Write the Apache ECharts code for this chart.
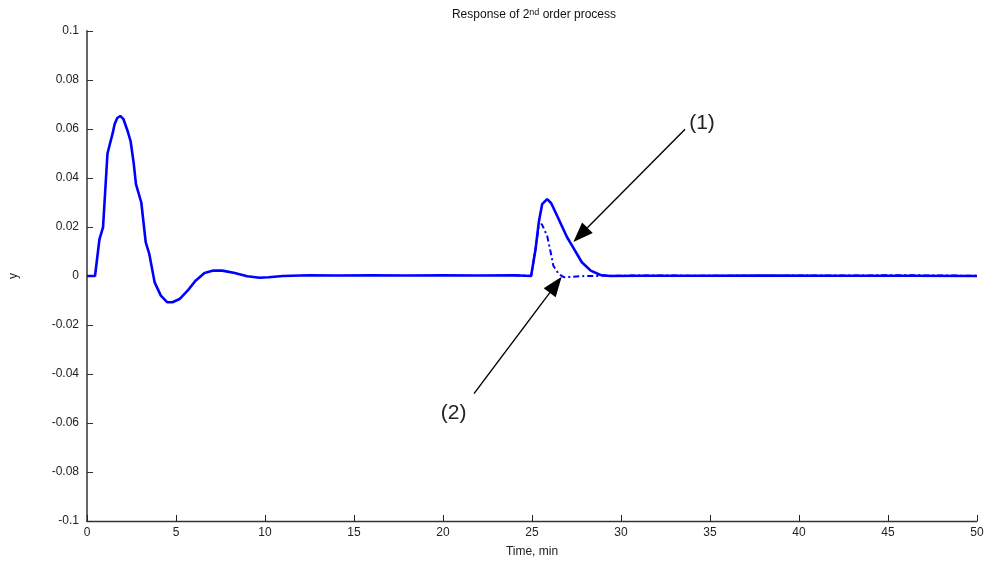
<!DOCTYPE html>
<html>
<head>
<meta charset="utf-8">
<title>Response of 2nd order process</title>
<script src="https://cdn.jsdelivr.net/npm/echarts@6.0.0/dist/echarts.min.js"></script>
<style>
  html, body { margin: 0; padding: 0; background: #fff; }
  #chart { width: 989px; height: 563px; }
</style>
</head>
<body>
<div id="chart"></div>
<script>
// response (1): full curve
const timeSolid = [0, 0.45, 0.7, 0.9, 1.15, 1.45, 1.55, 1.7, 1.87, 2.05, 2.28, 2.45, 2.62, 2.75, 3.05, 3.3, 3.5, 3.8, 4.15, 4.5, 4.8, 5.2, 5.65, 6.1, 6.6, 7.1, 7.6, 8.3, 9.0, 9.7, 10.2, 11, 12.5, 14, 16, 18, 20, 22, 24, 24.95, 25.2, 25.38, 25.57, 25.85, 26.08, 26.41, 26.97, 27.25, 27.8, 28.3, 28.85, 29.4, 31, 34, 38, 42, 46, 50];
const ySolid = [0, 0, 0.015, 0.0198, 0.05, 0.0585, 0.0619, 0.0645, 0.0653, 0.064, 0.0592, 0.055, 0.0463, 0.0375, 0.03, 0.0137, 0.009, -0.0026, -0.008, -0.0107, -0.0107, -0.0094, -0.006, -0.0019, 0.0012, 0.0022, 0.0022, 0.0012, -0.0001, -0.0007, -0.0005, 0, 0.0003, 0.0002, 0.0003, 0.0002, 0.0003, 0.0002, 0.0003, 0, 0.011, 0.0219, 0.0293, 0.0314, 0.0297, 0.0246, 0.0158, 0.0124, 0.0056, 0.0022, 0.0004, 0, 0.0001, 0.0001, 0.0002, 0.0001, 0.0001, 0];

// response (2): dash-dot curve
const timeDash = [24, 24.95, 25.2, 25.38, 25.55, 25.85, 26.05, 26.2, 26.5, 26.8, 27.3, 28, 31, 36, 42, 46, 50];
const yDash = [0.0003, 0, 0.011, 0.0205, 0.0212, 0.0164, 0.0097, 0.0042, 0.0008, -0.0005, -0.0003, 0, 0.0002, 0.0001, 0.0002, 0.0003, 0.0001];

// annotations: [label, text position, arrow start, arrow tip]
const notes = [
  ['(1)', [34.55, 0.0622], [33.6, 0.0599], [27.72, 0.0168]],
  ['(2)', [20.6, -0.0562], [21.74, -0.048], [26.33, -0.0036]]
];

const chart = echarts.init(document.getElementById('chart'));
const font = 'Liberation Sans, Arial, sans-serif';

chart.setOption({
  animation: false,
  textStyle: { fontFamily: font },
  title: {
    text: 'Response of 2{sup|nd} order process',
    left: 529,
    textAlign: 'center',
    top: 3,
    textStyle: {
      fontSize: 12,
      fontWeight: 'normal',
      color: '#111',
      fontFamily: font,
      rich: {
        sup: { fontSize: 9, verticalAlign: 'top', lineHeight: 14, color: '#111' }
      }
    }
  },
  grid: { left: 86, right: 12, top: 31, bottom: 41 },
  xAxis: {
    type: 'value',
    min: 0,
    max: 50,
    interval: 5,
    name: 'Time, min',
    nameLocation: 'middle',
    nameGap: 25,
    nameTextStyle: { fontSize: 12, color: '#222' },
    axisLine: { onZero: false, lineStyle: { color: '#333', width: 1.3 } },
    axisTick: { inside: true, length: 6, lineStyle: { color: '#222' } },
    axisLabel: { fontSize: 12, color: '#222', margin: 6 },
    splitLine: { show: false }
  },
  yAxis: {
    type: 'value',
    min: -0.1,
    max: 0.1,
    interval: 0.02,
    name: 'y',
    nameLocation: 'middle',
    nameGap: 67,
    nameTextStyle: { fontSize: 12, color: '#222' },
    axisLine: { show: true, onZero: false, lineStyle: { color: '#666', width: 2 } },
    axisTick: { show: true, inside: true, length: 6, lineStyle: { color: '#333' } },
    axisLabel: {
      fontSize: 12,
      color: '#222',
      margin: 8,
      formatter: v => String(Math.round(v * 100) / 100)
    },
    splitLine: { show: false }
  },
  series: [
    {
      name: '(2)',
      type: 'line',
      data: timeDash.map((t, i) => [t, yDash[i]]),
      symbol: 'none',
      lineStyle: { color: '#0000ff', width: 2, type: [6, 3, 2, 3] },
      z: 3
    },
    {
      name: '(1)',
      type: 'line',
      data: timeSolid.map((t, i) => [t, ySolid[i]]),
      symbol: 'none',
      lineStyle: { color: '#0000ff', width: 2.6 },
      z: 2,
      markLine: {
        silent: true,
        symbol: ['none', 'triangle'],
        symbolSize: [15, 20],
        label: { show: false },
        lineStyle: { color: '#000', width: 1.4, type: 'solid' },
        data: notes.map(n => [{ coord: n[2] }, { coord: n[3] }])
      },
      markPoint: {
        silent: true,
        symbol: 'circle',
        symbolSize: 0,
        label: {
          show: true,
          position: 'inside',
          fontSize: 21,
          color: '#222',
          fontFamily: font,
          formatter: p => p.name
        },
        data: notes.map(n => ({ name: n[0], coord: n[1] }))
      }
    }
  ]
});
</script>
</body>
</html>
